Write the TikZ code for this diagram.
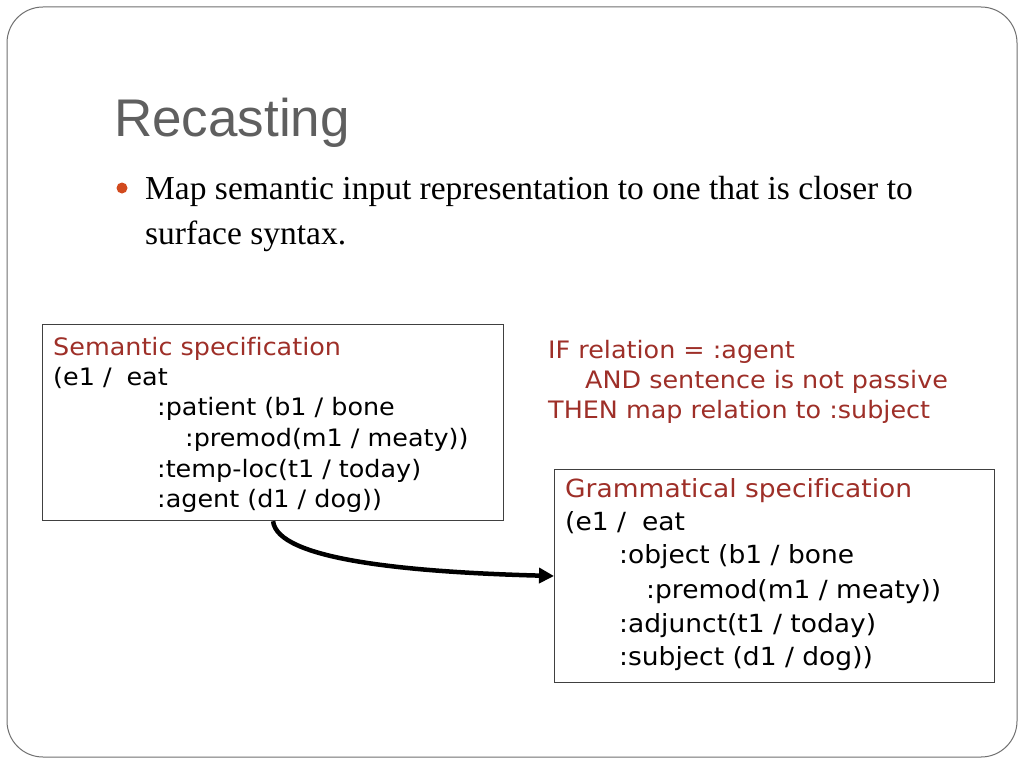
\documentclass[tikz,border=0pt]{standalone}
\usepackage{fontspec}
\setmainfont{Liberation Serif}
\newfontfamily\verd[FakeStretch=1.06,Ligatures=NoCommon]{DejaVu Sans}
\newfontfamily\titlef{Liberation Sans}
\usetikzlibrary{arrows.meta}
\definecolor{darkred}{RGB}{158,47,40}
\definecolor{titlegray}{RGB}{95,95,95}
\definecolor{bulletorange}{RGB}{210,74,30}
\definecolor{framegray}{RGB}{112,112,112}
\definecolor{boxgray}{RGB}{64,64,64}
\tikzset{
  line/.style={anchor=base west, inner sep=0pt, font=\verd\fontsize{24}{28}\selectfont},
  gline/.style={anchor=base west, inner sep=0pt, font=\verd\fontsize{25}{30}\selectfont},
  specbox/.style={draw=boxgray, line width=1.2pt},
  maparrow/.style={line width=4.5pt, -{Triangle[length=15pt,width=15pt]}},
}
\begin{document}
\begin{tikzpicture}[x=1pt,y=-1pt]
\useasboundingbox (0,0) rectangle (1024,768);
\fill[white] (0,0) rectangle (1024,768);
\draw[framegray, line width=1pt, rounded corners=36pt] (7,7) rectangle (1017,757);
% title
\node[anchor=base west, inner sep=0pt, text=titlegray, font=\titlef\fontsize{53}{60}\selectfont] (title) at (114,136) {Recasting};
% bullet
\fill[bulletorange] (122,188) circle (5.5pt);
\node[anchor=base west, inner sep=0pt, font=\fontsize{33.5}{40}\selectfont] (b1) at (145,199) {Map semantic input representation to one that is closer to};
\node[anchor=base west, inner sep=0pt, font=\fontsize{33.5}{40}\selectfont] (b2) at (145,244) {surface syntax.};
% left box
\node[specbox, minimum width=461pt, minimum height=196pt, anchor=north west, inner sep=0pt] (sem) at (42,324) {};
\node[line, text=darkred] (s0) at (53,355) {Semantic specification};
\node[line] (s1) at (53,385) {(e1 /\hspace{15pt}eat};
\node[line] (s2) at (157,415) {:patient (b1 / bone};
\node[line] (s3) at (185,446) {:premod(m1 / meaty))};
\node[line] (s4) at (157,477) {:temp-loc(t1 / today)};
\node[line] (s5) at (157,507) {:agent (d1 / dog))};
% rule
\node[line, text=darkred] (r1) at (548,358) {IF relation = :agent};
\node[line, text=darkred] (r2) at (585,388) {AND sentence is not passive};
\node[line, text=darkred] (r3) at (548,418) {THEN map relation to :subject};
% right box
\node[specbox, minimum width=440pt, minimum height=213pt, anchor=north west, inner sep=0pt] (gram) at (554,469) {};
\node[gline, text=darkred] (g0) at (565,497) {Grammatical specification};
\node[gline] (g1) at (565,530) {(e1 /\hspace{16pt}eat};
\node[gline] (g2) at (619,563) {:object (b1 / bone};
\node[gline] (g3) at (646,598) {:premod(m1 / meaty))};
\node[gline] (g4) at (619,632) {:adjunct(t1 / today)};
\node[gline] (g5) at (619,665) {:subject (d1 / dog))};
% arrow
\coordinate (start) at (sem.south);
\coordinate (end) at (gram.west |- 0,576);
\draw[maparrow] (start) .. controls +(4,38) and +(-150,-4) .. (end);
\end{tikzpicture}
\end{document}
